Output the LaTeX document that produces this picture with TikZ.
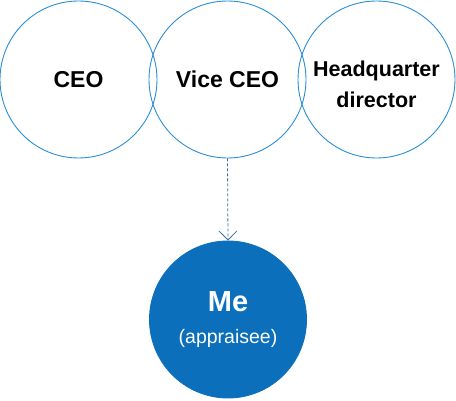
\documentclass[tikz,border=0pt]{standalone}
\usepackage{fontspec}
\setmainfont{Liberation Sans}
\usepackage{xcolor}
\usetikzlibrary{arrows.meta, positioning}
\definecolor{ringblue}{HTML}{2A8FD4}
\definecolor{meblue}{HTML}{0B6FBB}
\definecolor{linkgrey}{HTML}{3A6F96}

\begin{document}
\begin{tikzpicture}[
    x=1pt, y=-1pt,
    >={Straight Barb[length=9pt, width=18pt]},
    ring/.style={circle, draw=ringblue, line width=0.9pt, minimum size=157pt,
        inner sep=0pt, align=center},
    every node/.style={font=\fontsize{23}{28}\selectfont\bfseries},
]
\useasboundingbox (0,0) rectangle (456,401);
% top row of appraisers
\node[ring] (ceo) at (78.5,79.5) {CEO};
\node[ring] (vice) at (227.5,79.5) {Vice CEO};
\node[ring] (hq) at (376.5,79.5) {};
\node[align=center, font=\fontsize{21.5}{31}\selectfont\bfseries] (hqtext)
    at (376.5,84.5) {Headquarter\\director};
% appraisee
\node[ring, draw=meblue, fill=meblue, text=white] (me) at (228,319.5)
    {{\fontsize{29}{30}\selectfont\bfseries Me}\\[4pt]
     {\fontsize{19.5}{22}\selectfont\mdseries (appraisee)}};
% link from vice CEO down to me
\draw[->, linkgrey, line width=0.8pt, dash pattern=on 3pt off 2pt] (vice.south) -- (me.north);
\end{tikzpicture}
\end{document}
